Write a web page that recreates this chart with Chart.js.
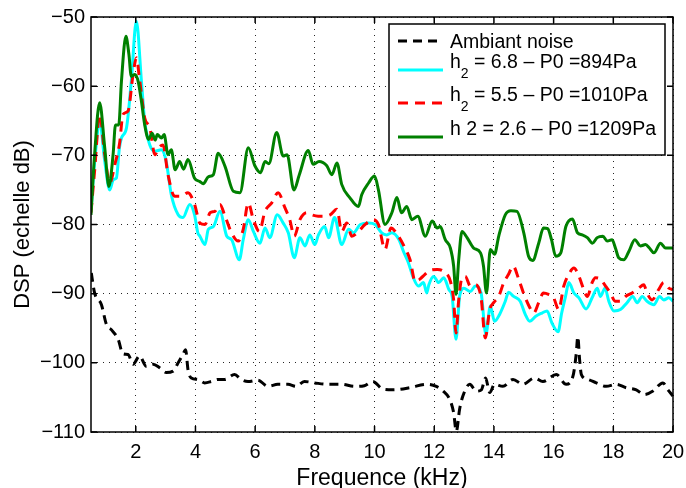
<!DOCTYPE html>
<html>
<head>
<meta charset="utf-8">
<script src="https://cdn.jsdelivr.net/npm/chart.js@4"></script>
<style>
  html, body { margin: 0; padding: 0; background: #fff; }
  #wrap { width: 686px; height: 488px; }
</style>
</head>
<body>
<div id="wrap"><canvas id="dsp" width="686" height="488"></canvas></div>
<script>
const FONT = "'Liberation Sans', Arial, Helvetica, sans-serif"

// ambient noise
const noiseX = [0.51, 0.62, 0.85, 1.02, 1.18, 1.41, 1.57, 1.74, 1.91, 2.13, 2.35, 2.58, 2.8, 3.02, 3.25, 3.42, 3.58, 3.67, 3.75, 3.86, 4.08, 4.31, 4.53, 4.75, 4.98, 5.31, 5.53, 5.76, 6.09, 6.43, 6.76, 7.1, 7.37, 7.65, 7.99, 8.44, 8.88, 9.33, 9.66, 9.94, 10.28, 10.62, 11.18, 11.74, 12.07, 12.3, 12.52, 12.65, 12.74, 12.85, 12.96, 13.19, 13.41, 13.58, 13.72, 13.86, 14.02, 14.3, 14.64, 14.97, 15.36, 15.64, 16.09, 16.42, 16.65, 16.76, 16.81, 16.87, 16.93, 17.15, 17.43, 17.76, 18.1, 18.43, 18.77, 19.04, 19.32, 19.66, 19.83, 20]
const noiseY = [-87, -89.9, -91.6, -94.5, -95.2, -96.6, -98.7, -98.8, -100.2, -99, -100.5, -100.2, -100.7, -101.4, -101.2, -100, -98.8, -98.1, -101, -102.2, -102.4, -102.9, -102.7, -102.4, -102.4, -101.7, -102.4, -102.7, -102.5, -103.4, -103.1, -103.1, -103.4, -102.7, -102.9, -103.1, -103.1, -103.4, -103.3, -102.7, -103.8, -103.9, -103.6, -103.1, -103.4, -104.1, -105.3, -107.2, -109.9, -106.7, -104.8, -103.1, -104.1, -103.9, -102.2, -104.3, -103.1, -103.4, -102.4, -103.1, -102.2, -102.7, -101.7, -103.1, -101.9, -98.6, -96.2, -99.5, -101.7, -102.4, -102.9, -103.4, -103.1, -103.6, -103.9, -104.6, -104.1, -102.9, -103.9, -104.8]

// h2 = 6.8, P0 = 894 Pa
const cyanX = [0.5, 0.62, 0.8, 0.95, 1.13, 1.25, 1.35, 1.45, 1.52, 1.69, 1.85, 2.02, 2.19, 2.3, 2.47, 2.64, 2.86, 3.02, 3.19, 3.42, 3.58, 3.81, 3.97, 4.08, 4.15, 4.32, 4.43, 4.6, 4.82, 5.05, 5.21, 5.47, 5.6, 5.77, 5.94, 6.16, 6.33, 6.49, 6.74, 6.94, 7.11, 7.31, 7.5, 7.67, 7.83, 8.0, 8.12, 8.33, 8.46, 8.66, 8.9, 9.13, 9.3, 9.52, 9.8, 10.02, 10.24, 10.41, 10.58, 10.82, 10.97, 11.14, 11.3, 11.47, 11.64, 11.75, 11.82, 11.98, 12.15, 12.32, 12.49, 12.6, 12.73, 12.85, 12.99, 13.21, 13.38, 13.57, 13.73, 13.88, 14.02, 14.19, 14.38, 14.49, 14.66, 14.88, 15.05, 15.2, 15.39, 15.61, 15.78, 15.94, 16.15, 16.27, 16.4, 16.51, 16.68, 16.85, 17.09, 17.29, 17.46, 17.57, 17.72, 17.85, 18.02, 18.24, 18.46, 18.65, 18.8, 18.97, 19.13, 19.36, 19.55, 19.69, 19.86, 20]
const cyanY = [-78.1, -71, -65.3, -70.5, -75, -73.5, -73.3, -69, -67.5, -66, -59.3, -50.6, -59.3, -65.1, -68.5, -69.4, -69.2, -70.9, -75.7, -78.6, -79, -77.1, -78.6, -81.2, -81.7, -82.9, -80.7, -80.3, -78.1, -81.7, -82.2, -85.1, -82.2, -79.3, -81, -82.7, -80.5, -81.9, -78.6, -79.8, -81.2, -84.8, -81.9, -83.1, -81.5, -82.9, -81.5, -80.3, -81.9, -79, -82.9, -80.7, -81.2, -80, -79.8, -80, -81.2, -81.5, -81.2, -82.2, -83.9, -85.6, -87.7, -88.9, -88.4, -89.9, -88.7, -87.5, -88.4, -87.7, -89.4, -90.4, -96.6, -90.4, -89.2, -89.7, -88.9, -89.9, -95.9, -91.8, -94, -93, -91.1, -89.8, -90.4, -91.1, -93, -94, -93.3, -92.8, -92.5, -94.2, -95.5, -92.8, -90.4, -88.4, -89.9, -90.6, -92.2, -90.6, -89.2, -90.4, -89.2, -91.1, -92.5, -92.3, -91.3, -90.4, -91.3, -90.4, -91.1, -91.6, -90.4, -90.9, -90.6, -91.1]

// h2 = 5.5, P0 = 1010 Pa
const redX = [0.5, 0.62, 0.79, 0.96, 1.13, 1.3, 1.46, 1.57, 1.74, 1.91, 2.02, 2.13, 2.3, 2.47, 2.64, 2.77, 2.91, 3.08, 3.3, 3.53, 3.75, 3.97, 4.15, 4.32, 4.49, 4.65, 4.82, 4.99, 5.21, 5.43, 5.6, 5.77, 5.94, 6.14, 6.33, 6.55, 6.77, 7.0, 7.16, 7.31, 7.5, 7.72, 7.89, 8.11, 8.24, 8.51, 8.74, 8.9, 9.07, 9.24, 9.46, 9.68, 9.96, 10.13, 10.35, 10.55, 10.8, 11.02, 11.19, 11.36, 11.52, 11.69, 11.87, 12.1, 12.32, 12.54, 12.65, 12.73, 12.82, 12.93, 13.04, 13.21, 13.38, 13.57, 13.71, 13.86, 13.99, 14.16, 14.33, 14.49, 14.64, 14.83, 14.99, 15.2, 15.33, 15.5, 15.66, 15.83, 16.0, 16.17, 16.34, 16.51, 16.68, 16.85, 17.01, 17.13, 17.29, 17.4, 17.57, 17.74, 17.9, 18.07, 18.24, 18.41, 18.63, 18.85, 19.02, 19.13, 19.3, 19.52, 19.69, 19.86, 20]
const redY = [-78.3, -72.3, -64.1, -69.9, -74, -71.3, -68.2, -64.1, -63.6, -58.3, -55.9, -59.1, -64.6, -66, -69.9, -68.9, -68.5, -72.8, -75.9, -75.9, -75.4, -77.1, -79.8, -80, -78.3, -78.1, -77.1, -78.8, -81.2, -82.4, -80.7, -76.9, -79.3, -81, -78.1, -76.9, -75.4, -77.6, -79.3, -81.7, -79.3, -78.3, -78.6, -78.8, -78.8, -78.6, -77.8, -81, -79.8, -81.7, -81, -80, -79.3, -80, -83.6, -80.5, -81.7, -83.4, -85.1, -88.2, -87.9, -87.2, -86.6, -86.5, -86.8, -88.2, -90.9, -95.7, -90.9, -87.7, -87.5, -88.9, -88.7, -90.6, -96.4, -92.3, -91.3, -90.4, -88.4, -87.2, -86, -87.9, -89.9, -92, -92.8, -91.3, -89.9, -90.1, -90.6, -92.3, -88.9, -87.2, -86.3, -87.5, -89.4, -90.4, -88.4, -87.7, -87.9, -88.9, -89.9, -91.1, -91.1, -90.4, -89.9, -89.2, -88.7, -89.9, -90.9, -89.4, -88.4, -89.2, -89.4]

// h2 = 2.6, P0 = 1209 Pa
const greenX = [0.5, 0.62, 0.79, 0.96, 1.1, 1.24, 1.32, 1.43, 1.52, 1.67, 1.77, 1.85, 1.97, 2.08, 2.19, 2.3, 2.43, 2.55, 2.65, 2.72, 2.86, 2.95, 3.08, 3.19, 3.32, 3.47, 3.6, 3.75, 3.97, 4.15, 4.26, 4.43, 4.6, 4.76, 4.99, 5.27, 5.49, 5.77, 5.99, 6.18, 6.33, 6.46, 6.72, 6.94, 7.07, 7.3, 7.48, 7.78, 7.94, 8.14, 8.4, 8.57, 8.74, 8.9, 9.17, 9.46, 9.57, 9.8, 10.0, 10.13, 10.35, 10.58, 10.75, 10.9, 11.08, 11.25, 11.45, 11.7, 11.93, 12.1, 12.2, 12.37, 12.54, 12.65, 12.73, 12.82, 12.93, 13.1, 13.32, 13.55, 13.65, 13.75, 13.88, 14.02, 14.16, 14.38, 14.57, 14.77, 15.0, 15.16, 15.3, 15.5, 15.66, 15.8, 15.93, 16.07, 16.24, 16.41, 16.63, 16.8, 16.96, 17.13, 17.3, 17.46, 17.65, 17.8, 17.96, 18.07, 18.18, 18.35, 18.52, 18.72, 18.91, 19.08, 19.21, 19.36, 19.58, 19.75, 20]
const greenY = [-78.6, -69.9, -62.4, -68.9, -74.5, -69.9, -65.6, -65.6, -59.3, -52.8, -55.4, -58.6, -58.3, -59.3, -62.2, -65.6, -67.7, -66.8, -67.8, -67, -67.5, -67, -69.9, -69.2, -72.1, -70.9, -72, -70.6, -73.3, -73.8, -74.1, -73.1, -72.8, -69.7, -71.6, -75.2, -75.4, -68.9, -71.5, -72.5, -70.9, -71.2, -66.7, -70.1, -69.9, -75, -72.8, -69.3, -71.3, -70.9, -71.5, -72.8, -71.1, -74.2, -76.1, -77.4, -75.7, -74, -73, -75, -80, -78.3, -76.1, -78.3, -77.4, -79.3, -78.8, -81.7, -79.5, -80.5, -80.3, -82.2, -83.4, -86, -90.1, -85.1, -81, -81.9, -83.4, -84.1, -86, -89.9, -83.6, -84.3, -81.7, -78.6, -78, -78.1, -81.2, -84.6, -85.2, -82.7, -80.5, -80.6, -82.2, -84.6, -84.1, -80.3, -79.2, -81.2, -81.5, -81.9, -82.7, -81.9, -81.7, -82.4, -82.2, -83.4, -84.8, -85.1, -83.9, -82.2, -83.1, -82.9, -83.4, -84.1, -82.7, -83.4, -83.4]

const xTicks = [2, 4, 6, 8, 10, 12, 14, 16, 18, 20]
const yTicks = [-110, -100, -90, -80, -70, -60, -50]

const pts = (xs, ys) => xs.map((x, i) => ({ x, y: ys[i] }))

const series = [
  { label: 'Ambiant noise', xs: noiseX, ys: noiseY, color: '#000000', dash: [9, 6], order: 4 },
  { label: 'h2 = 6.8 – P0 =894Pa', xs: cyanX, ys: cyanY, color: '#00ffff', dash: [], order: 3 },
  { label: 'h2 = 5.5 – P0 =1010Pa', xs: redX, ys: redY, color: '#ff0000', dash: [10, 7], order: 2 },
  { label: 'h 2 = 2.6 – P0 =1209Pa', xs: greenX, ys: greenY, color: '#008000', dash: [], order: 1 }
]

// box, inner ticks and the legend, drawn like the matlab figure
const frame = {
  id: 'frame',
  afterDraw (chart) {
    const { ctx, chartArea: a, scales } = chart
    ctx.save()
    ctx.strokeStyle = '#000'
    ctx.lineWidth = 1.5
    ctx.setLineDash([])
    ctx.strokeRect(a.left, a.top, a.right - a.left, a.bottom - a.top)
    ctx.beginPath()
    xTicks.forEach(v => {
      const px = scales.x.getPixelForValue(v)
      ctx.moveTo(px, a.bottom); ctx.lineTo(px, a.bottom - 6)
      ctx.moveTo(px, a.top); ctx.lineTo(px, a.top + 6)
    })
    yTicks.forEach(v => {
      const py = scales.y.getPixelForValue(v)
      ctx.moveTo(a.left, py); ctx.lineTo(a.left + 6, py)
      ctx.moveTo(a.right, py); ctx.lineTo(a.right - 6, py)
    })
    ctx.stroke()

    // legend
    const bx = 389, by = 24, bw = 276, bh = 131
    ctx.fillStyle = '#fff'
    ctx.fillRect(bx, by, bw, bh)
    ctx.lineWidth = 1.5
    ctx.strokeRect(bx, by, bw, bh)
    const rows = [
      { line: 41, base: 48, parts: [['Ambiant noise', 0]] },
      { line: 70, base: 68, parts: [['h', 0], ['2', 1], [' = 6.8 – P0 =894Pa', 0]] },
      { line: 103, base: 101, parts: [['h', 0], ['2', 1], [' = 5.5 – P0 =1010Pa', 0]] },
      { line: 137, base: 135, parts: [['h 2 = 2.6 – P0 =1209Pa', 0]] }
    ]
    rows.forEach((r, i) => {
      const s = series[i]
      ctx.strokeStyle = s.color
      ctx.lineWidth = 3
      ctx.setLineDash(s.dash)
      ctx.beginPath()
      ctx.moveTo(398, r.line); ctx.lineTo(443, r.line)
      ctx.stroke()
      ctx.setLineDash([])
      ctx.fillStyle = '#000'
      ctx.textBaseline = 'alphabetic'
      ctx.textAlign = 'left'
      let tx = 450
      r.parts.forEach(([t, sub]) => {
        ctx.font = (sub ? '14px ' : '19.5px ') + FONT
        ctx.fillText(t, tx, r.base + (sub ? 10 : 0))
        tx += ctx.measureText(t).width
      })
    })
    ctx.restore()
  }
}

const minus = v => String(v).replace('-', '\u2212')

new Chart(document.getElementById('dsp').getContext('2d'), {
  type: 'line',
  data: {
    datasets: series.map(s => ({
      label: s.label,
      data: pts(s.xs, s.ys),
      borderColor: s.color,
      backgroundColor: s.color,
      borderDash: s.dash,
      borderWidth: 3,
      order: s.order,
      pointRadius: 0,
      fill: false
    }))
  },
  options: {
    responsive: false,
    animation: false,
    events: [],
    layout: { padding: { left: 0, right: 13, top: 17, bottom: 0 } },
    elements: { line: { tension: 0.4, cubicInterpolationMode: 'monotone' } },
    plugins: { legend: { display: false }, tooltip: { enabled: false } },
    scales: {
      x: {
        type: 'linear',
        min: 0.5,
        max: 20,
        afterBuildTicks: s => { s.ticks = xTicks.map(value => ({ value })) },
        afterFit: s => { s.height = 56; s.paddingLeft = 0; s.paddingRight = 0 },
        grid: { color: 'rgba(0,0,0,0.85)', lineWidth: 1, drawTicks: false },
        border: { display: false, dash: [1, 5] },
        ticks: { color: '#000', padding: 8, maxRotation: 0, font: { family: FONT, size: 20 }, callback: v => minus(v) },
        title: { display: true, text: 'Frequence (kHz)', color: '#000', font: { family: FONT, size: 23, lineHeight: 0.85 }, padding: { top: 0, bottom: 0 } }
      },
      y: {
        min: -110,
        max: -50,
        afterBuildTicks: s => { s.ticks = yTicks.map(value => ({ value })) },
        afterFit: s => { s.width = 91; s.paddingTop = 0; s.paddingBottom = 0 },
        grid: { color: 'rgba(0,0,0,0.85)', lineWidth: 1, drawTicks: false },
        border: { display: false, dash: [1, 5] },
        ticks: { color: '#000', padding: 6, font: { family: FONT, size: 20 }, callback: v => minus(v) },
        title: { display: true, text: 'DSP (echelle dB)', color: '#000', font: { family: FONT, size: 22 }, padding: { top: 10, bottom: 10 } }
      }
    }
  },
  plugins: [frame]
})
</script>
</body>
</html>
